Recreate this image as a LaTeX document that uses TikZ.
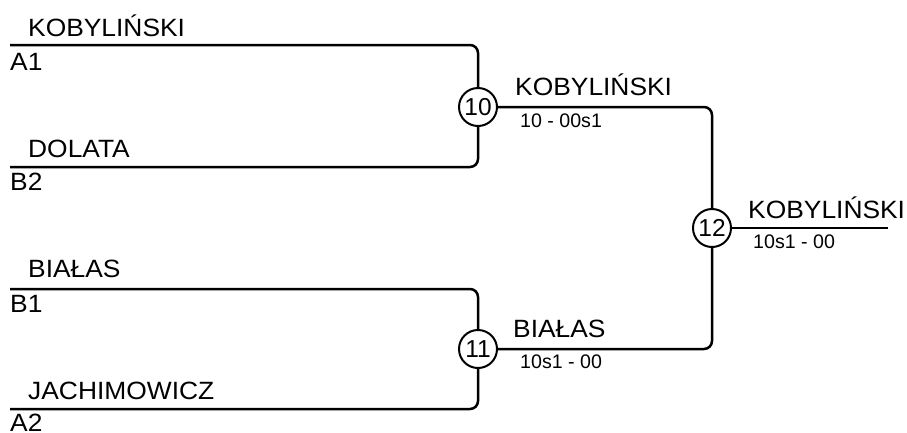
\documentclass[tikz,border=0pt]{standalone}
\usepackage{fontspec}
\setmainfont{Liberation Sans}
\newfontfamily\widefont[FakeStretch=1.055]{Liberation Sans}
\begin{document}
\begin{tikzpicture}[x=1pt,y=-1pt,
  bline/.style={line width=2.5pt, rounded corners=8pt},
  mnode/.style={circle, draw, line width=2pt, minimum size=38pt, inner sep=0pt, font=\fontsize{24.5}{28}\selectfont},
  big/.style={anchor=base west, inner sep=0pt, font=\widefont\fontsize{25}{29}\selectfont},
  small/.style={anchor=base west, inner sep=0pt, font=\fontsize{19.6}{23}\selectfont}]
\useasboundingbox (0,0) rectangle (907,432);
\node[mnode] (m10) at (478,107) {10};
\node[mnode] (m11) at (478,349) {11};
\node[mnode] (m12) at (712,228) {12};
\coordinate (a1) at (10,45);
\coordinate (b2) at (10,167);
\coordinate (b1) at (10,289);
\coordinate (a2) at (10,409);
\coordinate (fin) at (888,228);
\draw[bline] (a1) -| (m10);
\draw[bline] (b2) -| (m10);
\draw[bline] (b1) -| (m11);
\draw[bline] (a2) -| (m11);
\draw[bline] (m10) -| (m12);
\draw[bline] (m11) -| (m12);
\draw[bline] (m12) -- (fin);
\node[big] (t1) at (28,36) {KOBYLIŃSKI};
\node[big] (t2) at (10,70) {A1};
\node[big] (t3) at (28,157) {DOLATA};
\node[big] (t4) at (10,190) {B2};
\node[big] (t5) at (28,277) {BIAŁAS};
\node[big] (t6) at (10,312) {B1};
\node[big] (t7) at (28,399) {JACHIMOWICZ};
\node[big] (t8) at (10,431) {A2};
\node[big] (w10) at (515,95) {KOBYLIŃSKI};
\node[small] (s10) at (520,127) {10 - 00s1};
\node[big] (w11) at (513,337) {BIAŁAS};
\node[small] (s11) at (520,368) {10s1 - 00};
\node[big] (w12) at (748,218) {KOBYLIŃSKI};
\node[small] (s12) at (753,248) {10s1 - 00};
\end{tikzpicture}
\end{document}
